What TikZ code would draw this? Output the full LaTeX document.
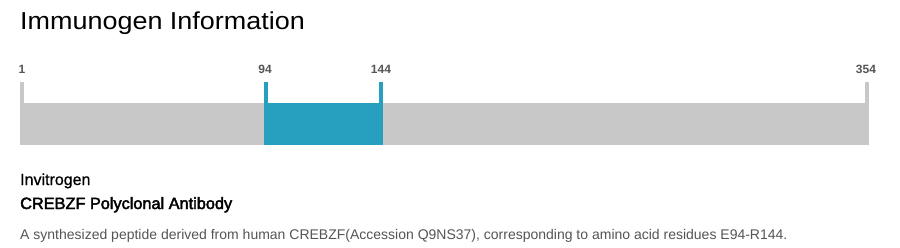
\documentclass[tikz,border=0pt]{standalone}
\usepackage{fontspec}
\setmainfont{Liberation Sans}
\newfontfamily\titlefont[FakeStretch=1.1]{Liberation Sans}
\newfontfamily\semibfont[FakeBold=2.5]{Liberation Sans}
\newfontfamily\medfont[FakeBold=0.8]{Liberation Sans}
\definecolor{bargray}{HTML}{C8C8C8}
\definecolor{barblue}{HTML}{26A0BE}
\definecolor{labgray}{HTML}{555555}
\definecolor{descgray}{HTML}{555555}
\begin{document}
\begin{tikzpicture}[x=1pt,y=-1pt,
  txt/.style={inner sep=0pt,anchor=base west},
  num/.style={inner sep=0pt,anchor=base,font=\fontsize{12}{14}\selectfont\bfseries,text=labgray}]
\useasboundingbox[fill=white] (0,0) rectangle (900,247);
% title
\node[txt,font=\titlefont\fontsize{24.5}{29}\selectfont] (title) at (20,29.5) {Immunogen Information};
% bar
\fill[bargray] (20,103) rectangle (869,145);
\fill[bargray] (20,82) rectangle (24,103);
\fill[bargray] (865,82) rectangle (869,103);
\fill[barblue] (264,103) rectangle (383,145);
\fill[barblue] (264,82) rectangle (268,103);
\fill[barblue] (379,82) rectangle (383,103);
% numbers
\node[num] (n1) at (22,73) {1};
\node[num] (n94) at (265,73) {94};
\node[num] (n144) at (381,73) {144};
\node[num] (n354) at (866,73) {354};
% text
\node[txt,font=\medfont\fontsize{16}{19}\selectfont] (vendor) at (20,185) {Invitrogen};
\node[txt,font=\semibfont\fontsize{16.3}{19}\selectfont] (prod) at (20,209) {CREBZF Polyclonal Antibody};
\node[txt,font=\fontsize{14}{17}\selectfont,text=descgray] (desc) at (20,239) {A synthesized peptide derived from human CREBZF(Accession Q9NS37), corresponding to amino acid residues E94-R144.};
\end{tikzpicture}
\end{document}
